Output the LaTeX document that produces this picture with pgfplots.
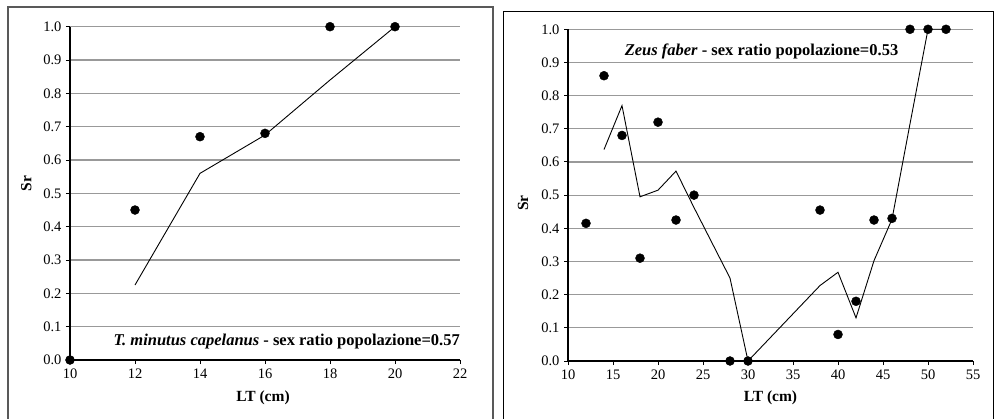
\documentclass[border=0pt]{standalone}
\usepackage{fontspec}
\setmainfont{Liberation Serif}
\usepackage{pgfplots}
\pgfplotsset{compat=1.18}
\begin{document}
\begin{tikzpicture}
\useasboundingbox (0,0) rectangle (997bp,419bp);
\pgfplotsset{
  myaxis/.style={
    scale only axis,
    anchor=south west,
    clip=false,
    axis x line=bottom,
    axis y line=left,
    axis line style={black, line width=1.6bp, -},
    ymin=0, ymax=1,
    ytick={0,0.1,...,1.0},
    ymajorgrids,
    grid style={black!40, line width=1.2bp},
    tick align=outside,
    major tick length=4bp,
    tick style={black, line width=1bp},
    /pgf/number format/assume math mode=true,
    yticklabel style={/pgf/number format/fixed, /pgf/number format/fixed zerofill, /pgf/number format/precision=1, font=\fontsize{14.5bp}{16bp}\selectfont, xshift=-1bp},
    xticklabel style={font=\fontsize{14.5bp}{16bp}\selectfont, yshift=-1bp},
    label style={font=\fontsize{15.5bp}{17bp}\selectfont\bfseries},
  },
  dots/.style={only marks, mark=*, mark size=4.5bp, black},
  avg/.style={no marks, black, line width=0.9bp},
}
\draw[black!65, line width=1.3bp] (8bp,-2bp) -- (8bp,412bp) -- (493bp,412bp) -- (493bp,-2bp);
\draw[black, line width=0.9bp] (503bp,-2bp) -- (503bp,407.3bp) -- (993bp,407.3bp) -- (993bp,-2bp);

\begin{axis}[myaxis,
  at={(70bp,59bp)}, width=390bp, height=333.3bp,
  xmin=10, xmax=22, xtick={10,12,...,22},
  xlabel={LT (cm)}, ylabel={Sr},
  xlabel style={at={(axis description cs:0.495,-0.114)}, anchor=center},
  ylabel style={at={(axis description cs:-0.112,0.53)}, anchor=center},
]
\addplot[avg] coordinates {(12,0.225) (14,0.56) (16,0.675) (18,0.84) (20,1.0)};
\addplot[dots] coordinates {(10,0) (12,0.45) (14,0.67) (16,0.68) (18,1.0) (20,1.0)};
\node[anchor=east, font=\fontsize{16.5bp}{18bp}\selectfont\bfseries, inner sep=0pt] at (axis cs:22,0.054) {\textit{T. minutus capelanus} - sex ratio popolazione=0.57};
\end{axis}

\begin{axis}[myaxis,
  at={(568bp,58bp)}, width=405bp, height=331.7bp,
  xmin=10, xmax=55, xtick={10,15,...,55},
  xlabel={LT (cm)}, ylabel={Sr},
  xlabel style={at={(axis description cs:0.5,-0.1115)}, anchor=center},
  ylabel style={at={(axis description cs:-0.111,0.476)}, anchor=center},
]
\addplot[avg] coordinates {(14,0.6375) (16,0.77) (18,0.495) (20,0.515) (22,0.5725) (24,0.4625) (28,0.25) (30,0.0) (38,0.2275) (40,0.2675) (42,0.13) (44,0.3025) (46,0.4275) (48,0.715) (50,1.0) (52,1.0)};
\addplot[dots] coordinates {(12,0.415) (14,0.86) (16,0.68) (18,0.31) (20,0.72) (22,0.425) (24,0.50) (28,0.0) (30,0.0) (38,0.455) (40,0.08) (42,0.18) (44,0.425) (46,0.43) (48,1.0) (50,1.0) (52,1.0)};
\node[anchor=center, font=\fontsize{16.5bp}{18bp}\selectfont\bfseries, inner sep=0pt] at (axis cs:31.5,0.932) {\textit{Zeus faber} - sex ratio popolazione=0.53};
\end{axis}
\end{tikzpicture}
\end{document}
